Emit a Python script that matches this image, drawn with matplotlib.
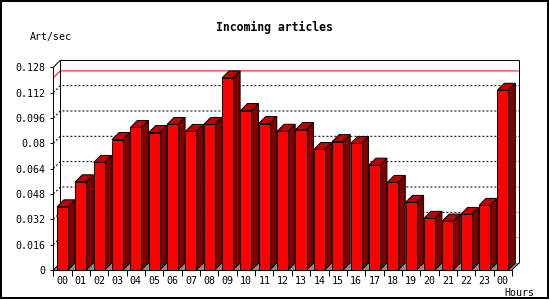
import matplotlib
matplotlib.use("Agg")
import matplotlib.pyplot as plt
from matplotlib.patches import Rectangle, Polygon

# ---- data ----
hours = ["00", "01", "02", "03", "04", "05", "06", "07", "08", "09", "10", "11",
         "12", "13", "14", "15", "16", "17", "18", "19", "20", "21", "22", "23", "00"]
values = [0.0399, 0.0557, 0.0679, 0.0824, 0.0900, 0.0868, 0.0919, 0.0875, 0.0919,
          0.1213, 0.1007, 0.0925, 0.0876, 0.0887, 0.0761, 0.0811, 0.0799, 0.0662,
          0.0553, 0.0427, 0.0326, 0.0309, 0.0351, 0.0408, 0.1135]
yticks = [0, 0.016, 0.032, 0.048, 0.064, 0.08, 0.096, 0.112, 0.128]
ytick_labels = ["0", "0.016", "0.032", "0.048", "0.064", "0.08", "0.096", "0.112", "0.128"]
title = "Incoming articles"
ylabel = "Art/sec"
xlabel = "Hours"

W, H = 550, 300
DPI = 100
PX = 72.0 / DPI  # points per pixel
FONT = "DejaVu Sans Mono"

fig = plt.figure(figsize=(W / DPI, H / DPI), dpi=DPI)
fig.patch.set_facecolor("white")

# front plane in pixels
left_px, right_px, top_px, bot_px = 53.3, 512.0, 67.3, 270.0
ax = fig.add_axes([left_px / W, 1 - bot_px / H, (right_px - left_px) / W, (bot_px - top_px) / H])
n = len(values)
ymax = yticks[-1]
ax.set_xlim(0, n)
ax.set_ylim(0, ymax)
for s in ax.spines.values():
    s.set_visible(False)
ax.patch.set_visible(False)

# 3D depth in data units
depth_px = 7.0
dx = depth_px * n / (right_px - left_px)
dy = depth_px * ymax / (bot_px - top_px)

lw = PX  # 1 px
kw = dict(color="black", lw=lw, clip_on=False, solid_capstyle="butt")

# floor
ax.add_patch(Polygon([(0, 0), (n, 0), (n + dx, dy), (dx, dy)], closed=True,
                     fc="#8c8c8c", ec="none", zorder=1, clip_on=False))

# grid lines (dotted) on the back wall, with diagonal from the front axis
for v in yticks[1:-1]:
    ax.plot([0, dx, n + dx], [v, v + dy, v + dy], color="black", lw=lw,
            linestyle=(0, (2, 2)), clip_on=False, zorder=1.5)

# max line in red
m = max(values)
ax.plot([0, dx, n + dx], [m, m + dy, m + dy], color="red", lw=lw, clip_on=False, zorder=1.6)

# frame of the back wall and axes
ax.plot([dx, n + dx], [ymax + dy, ymax + dy], zorder=1.7, **kw)
ax.plot([dx, dx], [dy, ymax + dy], zorder=1.7, **kw)
ax.plot([n + dx, n + dx], [dy, ymax + dy], zorder=1.7, **kw)
ax.plot([0, dx], [ymax, ymax + dy], zorder=1.7, **kw)
ax.plot([n, n + dx], [0, dy], zorder=1.7, **kw)
ax.plot([0, dx], [0, dy], zorder=1.7, **kw)
ax.plot([0, 0], [0, ymax], zorder=5, **kw)
ax.plot([0, n], [0, 0], zorder=5, **kw)

# bars
bw = 0.6
for i, v in enumerate(values):
    x0 = i + (1 - bw) / 2
    x1 = x0 + bw
    ax.add_patch(Polygon([(x1, 0), (x1 + dx, dy), (x1 + dx, v + dy), (x1, v)], closed=True,
                         fc="#800000", ec="black", lw=lw, zorder=3, clip_on=False,
                         joinstyle="miter"))
    ax.add_patch(Polygon([(x0, v), (x1, v), (x1 + dx, v + dy), (x0 + dx, v + dy)], closed=True,
                         fc="#c00000", ec="black", lw=lw, zorder=3, clip_on=False,
                         joinstyle="miter"))
    ax.add_patch(Rectangle((x0, 0), bw, v, fc="#ff0000", ec="black", lw=lw, zorder=3.5,
                           clip_on=False, joinstyle="miter"))

# ticks
ax.set_yticks(yticks)
ax.set_yticklabels(ytick_labels, fontfamily=FONT, fontsize=7.2)
ax.tick_params(axis="y", which="major", direction="out", length=3.5 * PX, width=lw, pad=3.5)
ax.set_xticks(range(n + 1))
ax.set_xticklabels([])
ax.set_xticks([i + 0.5 for i in range(n)], minor=True)
ax.set_xticklabels(hours, minor=True, fontfamily=FONT, fontsize=7.2)
ax.tick_params(axis="x", which="major", direction="out", length=6 * PX, width=lw)
ax.tick_params(axis="x", which="minor", length=0, pad=4.0)

# texts
fig.text(274 / W, 1 - 27 / H, title, ha="center", va="center", fontfamily=FONT,
         fontweight="bold", fontsize=8.3)
fig.text(30 / W, 1 - 37 / H, ylabel, ha="left", va="center", fontfamily=FONT, fontsize=7.2)
fig.text(519 / W, 1 - 292.5 / H, xlabel, ha="center", va="center", fontfamily=FONT, fontsize=7.2)

# outer border
fig.add_artist(Rectangle((1 / W, 1 - 298 / H), 547 / W, 297 / H, transform=fig.transFigure,
                         fill=False, ec="black", lw=2 * PX))

fig.savefig("out.png", dpi=DPI)
